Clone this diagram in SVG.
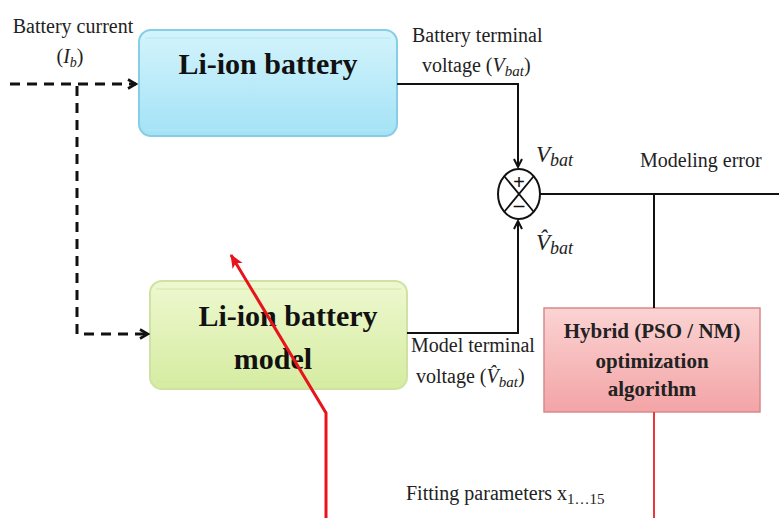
<svg xmlns="http://www.w3.org/2000/svg" width="779" height="518" viewBox="0 0 779 518">
<defs>
<linearGradient id="gBlue" x1="0" y1="0" x2="0" y2="1"><stop offset="0" stop-color="#d4f4fc"/><stop offset="1" stop-color="#a3e2f6"/></linearGradient>
<linearGradient id="gGreen" x1="0" y1="0" x2="0" y2="1"><stop offset="0" stop-color="#eef8d0"/><stop offset="1" stop-color="#d5eca0"/></linearGradient>
<linearGradient id="gPink" x1="0" y1="0" x2="0" y2="1"><stop offset="0" stop-color="#fbd3d3"/><stop offset="1" stop-color="#f3a4a6"/></linearGradient>
<marker id="aOpen" viewBox="0 0 10 10" refX="9" refY="5" markerWidth="10" markerHeight="10" markerUnits="userSpaceOnUse" orient="auto"><path d="M1,1 L9,5 L1,9" fill="none" stroke="#111" stroke-width="2"/></marker>
<marker id="aDash" viewBox="0 0 12 12" refX="10" refY="6" markerWidth="12" markerHeight="12" markerUnits="userSpaceOnUse" orient="auto"><path d="M2,1.5 L10,6 L2,10.5" fill="none" stroke="#111" stroke-width="2.6"/></marker>
<marker id="aRed" viewBox="0 0 12 12" refX="11" refY="6" markerWidth="14" markerHeight="14" markerUnits="userSpaceOnUse" orient="auto"><path d="M0,1 L12,6 L0,11 L3,6 Z" fill="#e8141c"/></marker>
</defs>
<style>
text{font-family:"Liberation Serif","Times New Roman",serif}
.lbl{font-size:20px;fill:#222}
.it{font-style:italic}
.big{font-weight:bold;font-size:30px;fill:#111;text-anchor:middle}
.alg{font-weight:bold;font-size:21px;fill:#222;text-anchor:middle}
.mv{font-style:italic;font-size:23px;fill:#222}
.ln{fill:none;stroke:#111;stroke-width:2}
.dash{fill:none;stroke:#111;stroke-width:3;stroke-dasharray:10 7}
.red{fill:none;stroke:#e8141c;stroke-width:3}
</style>
<rect width="779" height="518" fill="#ffffff"/>
<g id="li-ion-battery">
<rect x="139" y="30" width="258" height="106" rx="12" fill="url(#gBlue)" stroke="#86cde6" stroke-width="2"/>
<path d="M145,38 H391 M145,130 H391" stroke="#b5e6f5" stroke-width="1"/>
<text class="big" x="268" y="74">Li-ion battery</text>
</g>
<g id="li-ion-battery-model">
<rect x="150" y="281" width="257" height="108" rx="12" fill="url(#gGreen)" stroke="#cfe2a4" stroke-width="2"/>
<path d="M156,289 H401 M156,382 H401" stroke="#d2e7a8" stroke-width="1"/>
<text class="big" x="288" y="326">Li-ion battery</text>
<text class="big" x="273" y="369">model</text>
</g>
<g id="optimizer">
<rect x="544" y="308" width="216" height="104" fill="url(#gPink)" stroke="#d88a8c" stroke-width="1.5"/>
<text class="alg" x="652" y="338">Hybrid (PSO / NM)</text>
<text class="alg" x="652" y="368">optimization</text>
<text class="alg" x="652" y="396">algorithm</text>
</g>
<g id="sum-junction">
<ellipse cx="519" cy="194" rx="21" ry="25" fill="#fff" stroke="#111" stroke-width="2"/>
<path d="M504.5,176.5 L533.5,211.5 M533.5,176.5 L504.5,211.5" stroke="#111" stroke-width="1.8"/>
<text x="519" y="189" font-size="21" font-weight="bold" text-anchor="middle" fill="#111">+</text>
<text x="519" y="212" font-size="21" font-weight="bold" text-anchor="middle" fill="#111">–</text>
</g>
<g id="connectors">
<path class="dash" d="M10,84 H136" marker-end="url(#aDash)"/>
<path class="dash" d="M77,86 V334 H148" marker-end="url(#aDash)"/>
<path class="ln" d="M397,84 H518 V167" marker-end="url(#aOpen)"/>
<path class="ln" d="M407,333 H518 V221" marker-end="url(#aOpen)"/>
<path class="ln" d="M540,194 H779"/>
<path class="ln" d="M654,194 V308"/>
<path d="M654,412 V518" fill="none" stroke="#e8383c" stroke-width="2"/>
<path class="red" d="M326,518 V413 L231,255" marker-end="url(#aRed)"/>
</g>
<g id="labels">
<text class="lbl" x="73" y="33" text-anchor="middle">Battery current</text>
<text class="lbl" x="70" y="63" text-anchor="middle">(<tspan class="it">I</tspan><tspan class="it" font-size="14" dy="4">b</tspan><tspan dy="-4">)</tspan></text>
<text class="lbl" x="412" y="42">Battery terminal</text>
<text class="lbl" x="422" y="72">voltage (<tspan class="it">V</tspan><tspan class="it" font-size="15" dy="4">bat</tspan><tspan dy="-4">)</tspan></text>
<text class="mv" x="536" y="162">V<tspan font-size="18" dy="4">bat</tspan></text>
<text class="lbl" x="640" y="167">Modeling error</text>
<text class="mv" x="536" y="250">V̂<tspan font-size="18" dy="4">bat</tspan></text>
<text class="lbl" x="411" y="352">Model terminal</text>
<text class="lbl" x="416" y="383">voltage (<tspan class="it">V̂</tspan><tspan class="it" font-size="15" dy="4">bat</tspan><tspan dy="-4">)</tspan></text>
<text class="lbl" x="406" y="500">Fitting parameters x<tspan font-size="15" dy="4">1…15</tspan></text>
</g>
</svg>
